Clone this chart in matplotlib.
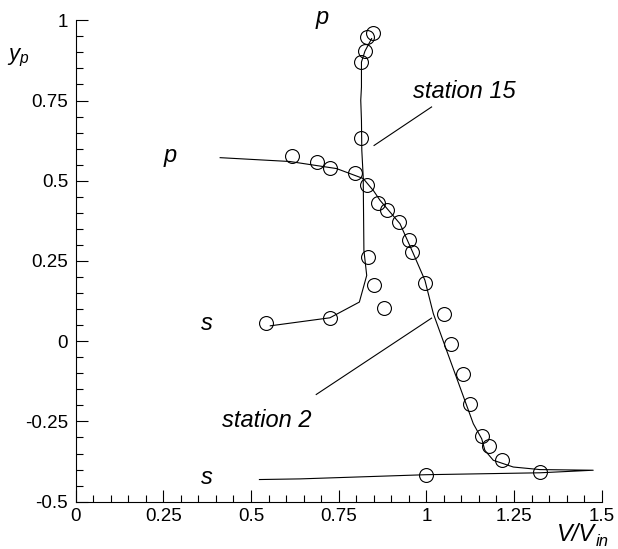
import numpy as np
import matplotlib
matplotlib.use('Agg')
import matplotlib.pyplot as plt
from matplotlib.ticker import MultipleLocator

plt.rcParams['font.family'] = ['Liberation Sans', 'DejaVu Sans']
plt.rcParams['mathtext.fontset'] = 'custom'
plt.rcParams['mathtext.it'] = 'Liberation Sans:italic'
plt.rcParams['mathtext.rm'] = 'Liberation Sans'

# station 15: computed profile and measured points
st15_line_x = [0.555, 0.725, 0.809, 0.830, 0.822, 0.820, 0.816, 0.815, 0.813, 0.815, 0.815, 0.825, 0.844]
st15_line_y = [0.048, 0.073, 0.122, 0.205, 0.283, 0.512, 0.595, 0.688, 0.751, 0.792, 0.870, 0.904, 0.943]
st15_pts_x = [0.542, 0.725, 0.879, 0.851, 0.834, 0.815, 0.815, 0.825, 0.832, 0.849]
st15_pts_y = [0.058, 0.073, 0.103, 0.176, 0.264, 0.634, 0.870, 0.904, 0.948, 0.959]

# station 2: computed profile and measured points
st2_line_x = [0.412, 0.611, 0.744, 0.820, 0.850, 0.868, 0.925, 0.963, 0.996, 1.020, 1.058,
              1.096, 1.134, 1.158, 1.167, 1.191, 1.248, 1.324, 1.476, 1.324, 0.998, 0.640, 0.524]
st2_line_y = [0.572, 0.560, 0.538, 0.507, 0.468, 0.439, 0.366, 0.273, 0.190, 0.086, -0.029,
              -0.143, -0.257, -0.304, -0.340, -0.371, -0.392, -0.400, -0.402, -0.410, -0.416, -0.429, -0.431]
st2_pts_x = [0.616, 0.689, 0.725, 0.798, 0.830, 0.861, 0.889, 0.923, 0.951, 0.959, 0.996,
             1.050, 1.069, 1.105, 1.124, 1.160, 1.179, 1.215, 1.324, 0.998]
st2_pts_y = [0.577, 0.558, 0.541, 0.524, 0.486, 0.430, 0.410, 0.371, 0.314, 0.278, 0.181,
             0.086, -0.008, -0.103, -0.197, -0.294, -0.328, -0.370, -0.406, -0.416]

fig = plt.figure(figsize=(6.18, 5.49), dpi=100)
ax = fig.add_axes([0.1225, 0.0862, 0.851, 0.8768])

ax.plot(st15_line_x, st15_line_y, color='black', lw=0.8)
ax.plot(st2_line_x, st2_line_y, color='black', lw=0.8)
ax.plot(st15_pts_x, st15_pts_y, 'o', ms=10, mfc='none', mec='black', mew=0.8)
ax.plot(st2_pts_x, st2_pts_y, 'o', ms=10, mfc='none', mec='black', mew=0.8)

ax.set_xlim(0, 1.5)
ax.set_ylim(-0.5, 1)
ax.xaxis.set_minor_locator(MultipleLocator(0.05))
ax.yaxis.set_minor_locator(MultipleLocator(0.05))
ax.set_xticks([0, 0.25, 0.5, 0.75, 1, 1.25, 1.5])
ax.set_xticklabels(['0', '0.25', '0.5', '0.75', '1', '1.25', '1.5'])
ax.set_yticks([-0.5, -0.25, 0, 0.25, 0.5, 0.75, 1])
ax.set_yticklabels(['-0.5', '-0.25', '0', '0.25', '0.5', '0.75', '1'])
ax.tick_params(which='both', direction='in', labelsize=13.5, width=0.8)
ax.tick_params(which='major', length=8.6, pad=5.5)
ax.tick_params(axis='x', which='major', pad=4.5)
ax.tick_params(which='minor', length=5)
ax.spines['top'].set_visible(False)
ax.spines['right'].set_visible(False)
for s in ['left', 'bottom']:
    ax.spines[s].set_linewidth(0.8)

lbl = dict(fontsize=17, style='italic', color='black')
ax.text(0.704, 1.009, 'p', ha='center', va='center', **lbl)
ax.text(0.269, 0.579, 'p', ha='center', va='center', **lbl)
ax.text(0.374, 0.055, 's', ha='center', va='center', **lbl)
ax.text(0.374, -0.425, 's', ha='center', va='center', **lbl)
ax.text(0.963, 0.777, 'station 15', ha='left', va='center', **lbl)
ax.text(0.416, -0.247, 'station 2', ha='left', va='center', **lbl)
ax.plot([1.015, 0.851], [0.730, 0.610], color='black', lw=0.8)
ax.plot([0.686, 1.015], [-0.166, 0.072], color='black', lw=0.8)

fig.text(18 / 618, 1 - 58 / 549, r'$y_p$', fontsize=16, ha='center', va='center')
fig.text(595 / 618, 1 - 541 / 549, 'V/V', fontsize=17, style='italic', ha='right', va='baseline')
fig.text(609 / 618, 1 - 546 / 549, 'in', fontsize=12, style='italic', ha='right', va='baseline')

fig.savefig('out.png', dpi=100)
